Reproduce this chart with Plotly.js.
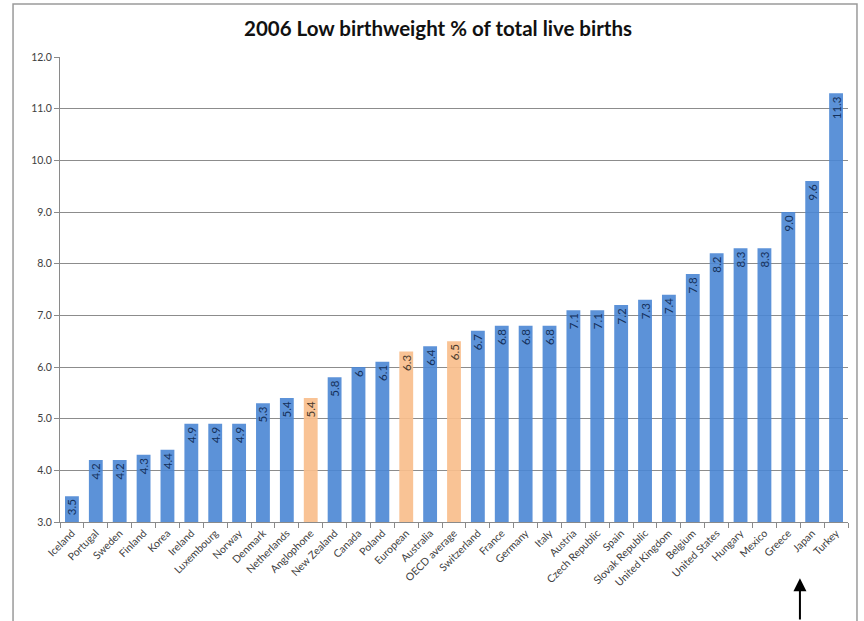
<!DOCTYPE html>
<html>
<head>
<meta charset="utf-8">
<script src="https://cdn.plot.ly/plotly-3.0.1.min.js"></script>
<style>html,body{margin:0;padding:0;background:#fff}#chart{width:864px;height:621px}</style>
</head>
<body>
<div id="chart"></div>
<script>
// Data
const categories = ["Iceland","Portugal","Sweden","Finland","Korea","Ireland","Luxembourg","Norway","Denmark","Netherlands","Anglophone","New Zealand","Canada","Poland","European","Australia","OECD average","Switzerland","France","Germany","Italy","Austria","Czech Republic","Spain","Slovak Republic","United Kingdom","Belgium","United States","Hungary","Mexico","Greece","Japan","Turkey"];
const values = [3.5,4.2,4.2,4.3,4.4,4.9,4.9,4.9,5.3,5.4,5.4,5.8,6,6.1,6.3,6.4,6.5,6.7,6.8,6.8,6.8,7.1,7.1,7.2,7.3,7.4,7.8,8.2,8.3,8.3,9.0,9.6,11.3];
const valueLabels = ["3.5","4.2","4.2","4.3","4.4","4.9","4.9","4.9","5.3","5.4","5.4","5.8","6","6.1","6.3","6.4","6.5","6.7","6.8","6.8","6.8","7.1","7.1","7.2","7.3","7.4","7.8","8.2","8.3","8.3","9.0","9.6","11.3"];
const aggregates = ["Anglophone","European","OECD average"];
const yTickValues = [3,4,5,6,7,8,9,10,11,12];
const yTickLabels = ["3.0","4.0","5.0","6.0","7.0","8.0","9.0","10.0","11.0","12.0"];
const chartTitle = "2006 Low birthweight % of total live births";

const BLUE = "rgba(74,134,212,0.9)";
const ORANGE = "rgba(249,190,140,0.92)";
const isAgg = categories.map(c => aggregates.includes(c));

const trace = {
  type: "bar",
  x: categories,
  y: values,
  text: valueLabels,
  textposition: "inside",
  insidetextanchor: "end",
  textangle: -90,
  constraintext: "none",
  cliponaxis: false,
  textfont: {family: "Lato, 'Open Sans', sans-serif", size: 11.5, color: isAgg.map(a => a ? "#4a3a2c" : "#14305a")},
  marker: {color: isAgg.map(a => a ? ORANGE : BLUE), line: {width: 0}},
  hoverinfo: "x+y"
};

const layout = {
  width: 864, height: 621,
  margin: {l: 60, r: 16, t: 57, b: 99},
  paper_bgcolor: "#ffffff", plot_bgcolor: "#ffffff",
  showlegend: false,
  bargap: 0.42,
  font: {family: "Lato, 'Open Sans', sans-serif", color: "#404040"},
  title: {
    text: chartTitle,
    font: {family: "Lato, 'Open Sans', sans-serif", size: 20.5, color: "#111111", weight: "bold"},
    x: 0.507, xref: "container", xanchor: "center",
    y: 0.953, yref: "container", yanchor: "middle"
  },
  xaxis: {
    type: "category",
    tickangle: -45,
    tickfont: {size: 10.5, color: "#404040"},
    showline: true, linecolor: "#8a8a8a", linewidth: 1,
    ticks: "outside", tickson: "boundaries", ticklen: 5, tickcolor: "#8a8a8a",
    showgrid: false,
    automargin: false
  },
  yaxis: {
    range: [3, 12],
    tickvals: yTickValues, ticktext: yTickLabels,
    tickfont: {size: 10.5, color: "#404040"},
    showline: true, linecolor: "#8a8a8a", linewidth: 1,
    ticks: "outside", ticklen: 5, tickcolor: "#8a8a8a",
    showgrid: true, gridcolor: "#8c8c8c", gridwidth: 1,
    zeroline: false,
    automargin: false
  },
  shapes: [
    {type: "rect", xref: "paper", yref: "paper",
     x0: -0.0596, x1: 1.0114, y0: -0.25, y1: 1.114,
     line: {color: "#9a9a9a", width: 1.5}, fillcolor: "rgba(0,0,0,0)", layer: "below"}
  ],
  annotations: [
    {xref: "paper", yref: "paper", x: 0.939, y: -0.121,
     text: "", showarrow: true, arrowhead: 2, arrowsize: 1.3, arrowwidth: 2,
     arrowcolor: "#000000", ax: 0, ay: 48, axref: "pixel", ayref: "pixel"}
  ]
};

Plotly.newPlot("chart", [trace], layout, {displayModeBar: false, staticPlot: true});
</script>
</body>
</html>
